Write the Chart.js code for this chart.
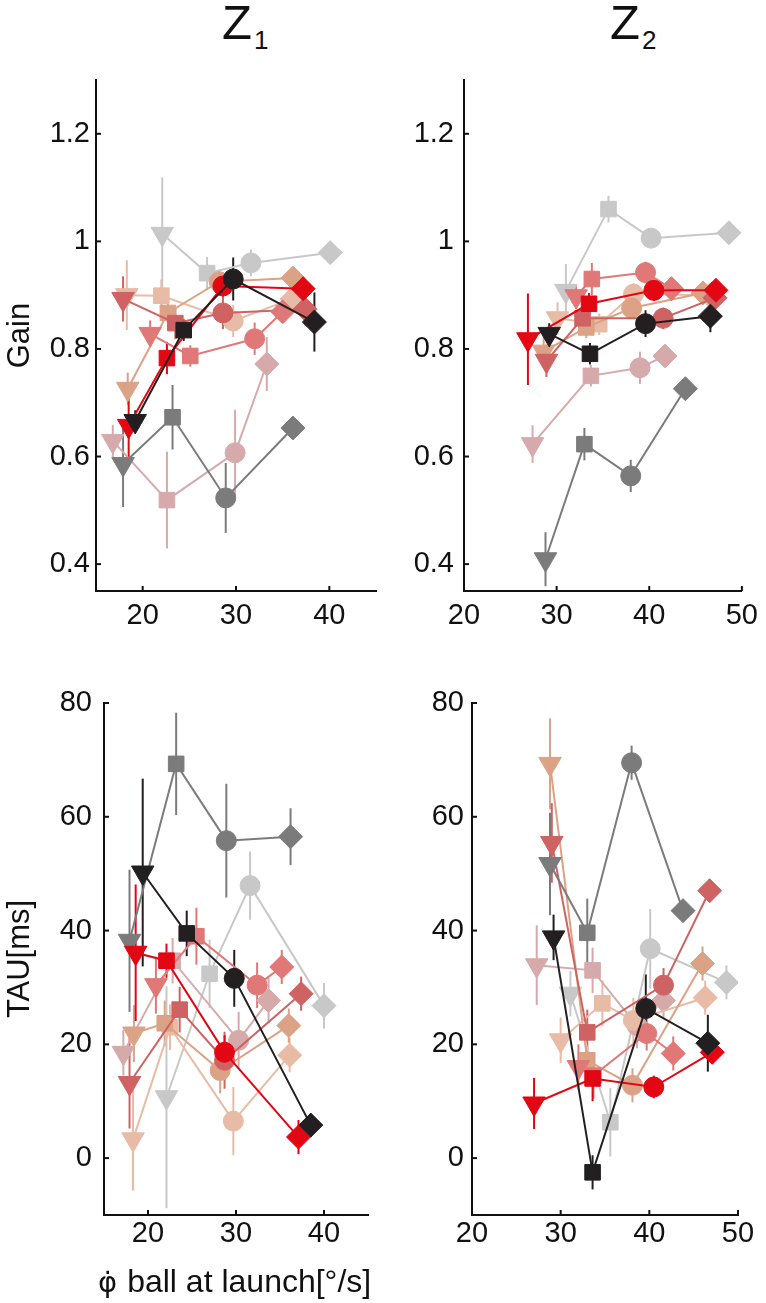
<!DOCTYPE html>
<html>
<head>
<meta charset="utf-8">
<script src="https://cdn.jsdelivr.net/npm/chart.js@4"></script>
<style>
body { margin: 0; background: #fff; }
#page { position: relative; width: 766px; height: 1303px; overflow: hidden; font-family: "Liberation Sans", Arial, sans-serif; color: #111; }
.panel { position: absolute; }
.ttl { position: absolute; top: -2px; font-size: 49px; line-height: 49px; }
.ttl sub { font-size: 26px; vertical-align: baseline; position: relative; top: 10px; margin-left: 2px; }
.xlab { position: absolute; left: 98px; top: 1265px; font-size: 32px; line-height: 32px; white-space: nowrap; }
.xlab .phi { font-family: "DejaVu Sans", sans-serif; font-size: 29px; margin-right: 10px; }
</style>
</head>
<body>
<div id="page">
  <div class="ttl" style="left:222px">Z<sub>1</sub></div>
  <div class="ttl" style="left:610px">Z<sub>2</sub></div>
  <div class="panel" style="left:0;top:40px;width:390px;height:620px"><canvas id="gainZ1"></canvas></div>
  <div class="panel" style="left:390px;top:40px;width:376px;height:620px"><canvas id="gainZ2"></canvas></div>
  <div class="panel" style="left:0;top:660px;width:390px;height:643px"><canvas id="tauZ1"></canvas></div>
  <div class="panel" style="left:390px;top:660px;width:376px;height:643px"><canvas id="tauZ2"></canvas></div>
  <div class="xlab"><span class="phi">φ&#775;</span>ball at launch[°/s]</div>
</div>
<script>
// subjects (one line each), points are triangle, square, circle, diamond
const subjects = ['S1', 'S2', 'S3', 'S4', 'S5', 'S6', 'S7', 'S8', 'S9'];
const subjectColors = ['#231f20', '#e30613', '#7b7b7b', '#e07878', '#cf6262', '#dca286', '#e7bba5', '#d6aaaa', '#c8c8c8'];

const gainTicks = [0.4, 0.6, 0.8, 1, 1.2];
const tauTicks = [0, 20, 40, 60, 80];
const z1XTicks = [20, 30, 40];
const z2XTicks = [20, 30, 40, 50];

// Gain, Z1
const gainZ1X = [
  [19.2, 24.4, 29.7, 38.4], [18.5, 22.6, 28.6, 37.2], [17.9, 23.2, 28.9, 36.1],
  [20.8, 25.1, 32.0, 35.0], [17.9, 23.5, 28.6, 37.4], [18.4, 22.7, 28.2, 36.1],
  [18.3, 22.0, 29.7, 36.0], [16.8, 22.6, 29.9, 33.3], [22.1, 26.9, 31.6, 40.1]
];
const gainZ1Y = [
  [0.666, 0.835, 0.930, 0.850], [0.657, 0.783, 0.917, 0.912], [0.586, 0.673, 0.523, 0.653],
  [0.828, 0.787, 0.819, 0.869], [0.893, 0.848, 0.867, 0.874], [0.726, 0.867, 0.925, 0.932],
  [0.900, 0.899, 0.852, 0.893], [0.629, 0.519, 0.607, 0.772], [1.014, 0.941, 0.960, 0.979]
];
const gainZ1Err = [
  [0.02, 0.02, 0.04, 0.055], [0.06, 0.03, 0.02, 0.02], [0.08, 0.06, 0.065, 0.01],
  [0.025, 0.02, 0.03, 0.02], [0.042, 0.03, 0.03, 0.03], [0.03, 0.02, 0.02, 0.02],
  [0.065, 0.03, 0.03, 0.02], [0.03, 0.09, 0.08, 0.05], [0.105, 0.03, 0.025, 0.01]
];

// Gain, Z2
const gainZ2X = [
  [29.2, 33.6, 39.6, 46.6], [26.9, 33.5, 40.5, 47.2], [28.8, 33.0, 38.0, 43.9],
  [32.1, 33.8, 39.6, 42.4], [28.9, 32.8, 41.5, 47.1], [28.6, 33.2, 38.1, 45.8],
  [30.1, 34.6, 38.3, 46.5], [27.4, 33.7, 39.0, 41.7], [31.0, 35.6, 40.2, 48.6]
];
const gainZ2Y = [
  [0.828, 0.791, 0.847, 0.861], [0.818, 0.884, 0.909, 0.909], [0.409, 0.623, 0.564, 0.726],
  [0.898, 0.930, 0.942, 0.912], [0.778, 0.857, 0.857, 0.895], [0.795, 0.840, 0.876, 0.904],
  [0.857, 0.846, 0.902, 0.900], [0.623, 0.750, 0.765, 0.787], [0.908, 1.060, 1.006, 1.016]
];
const gainZ2Err = [
  [0.02, 0.02, 0.025, 0.03], [0.085, 0.02, 0.02, 0.015], [0.05, 0.03, 0.03, 0.01],
  [0.02, 0.03, 0.02, 0.02], [0.03, 0.02, 0.02, 0.02], [0.03, 0.02, 0.02, 0.02],
  [0.03, 0.02, 0.02, 0.02], [0.035, 0.02, 0.03, 0.01], [0.05, 0.025, 0.01, 0.01]
];

// TAU [ms], Z1
const tauZ1X = [
  [19.4, 24.4, 29.8, 38.5], [18.6, 22.1, 28.7, 37.1], [17.9, 23.2, 28.9, 36.2],
  [20.9, 25.5, 32.4, 35.2], [17.9, 23.6, 28.7, 37.4], [18.4, 21.9, 28.2, 36.0],
  [18.3, 22.5, 29.7, 36.1], [17.2, 22.8, 30.3, 33.7], [22.1, 27.0, 31.6, 40.0]
];
const tauZ1Y = [
  [50.2, 39.5, 31.6, 5.8], [36.1, 34.7, 18.6, 3.7], [38.2, 69.3, 55.8, 56.5],
  [30.4, 39.0, 30.4, 33.6], [13.2, 26.1, 17.2, 28.9], [21.9, 23.7, 15.4, 23.3],
  [3.3, 23.0, 6.5, 18.1], [18.5, 34.7, 20.7, 27.7], [10.7, 32.4, 47.9, 26.8]
];
const tauZ1Err = [
  [16.5, 4, 5, 2], [12, 3, 3, 3], [12.5, 9, 10, 5],
  [5, 5, 4, 3], [8, 4, 5, 3], [5, 4, 4, 3],
  [9, 4, 6, 3], [4, 4, 5, 4], [19.5, 6, 6, 4]
];

// TAU [ms], Z2
const tauZ2X = [
  [29.2, 33.6, 39.6, 46.6], [27.0, 33.6, 40.5, 47.1], [28.8, 33.0, 38.0, 43.8],
  [32.0, 33.7, 39.7, 42.7], [29.0, 33.0, 41.6, 46.8], [28.8, 33.0, 38.1, 46.0],
  [30.0, 34.7, 38.2, 46.3], [27.3, 33.6, 38.6, 41.6], [31.1, 35.6, 40.1, 48.7]
];
const tauZ2Y = [
  [38.8, -2.5, 26.3, 20.2], [9.6, 14.0, 12.5, 18.6], [51.7, 39.6, 69.5, 43.5],
  [16.0, 14.5, 21.9, 18.4], [55.4, 22.1, 30.4, 47.0], [69.3, 17.2, 12.8, 34.2],
  [20.7, 27.2, 24.2, 28.2], [33.9, 33.0, 23.3, 27.7], [28.9, 6.3, 36.8, 30.9]
];
const tauZ2Err = [
  [4, 3, 6, 5], [4.5, 4, 2, 2], [9, 6, 3, 2],
  [4, 4, 3, 3], [7, 4, 3, 2], [8, 3, 3, 3],
  [4, 4, 4, 3], [7, 4, 4, 3], [4, 6, 7, 3]
];

const markerStyles = ['triangle', 'rect', 'circle', 'rectRot'];
const markerRotation = [180, 0, 0, 0];
const markerRadius = [13, 11, 10, 12];
const FONT = '"Liberation Sans", Arial, sans-serif';
const INK = '#111';

// vertical error bars, drawn under the markers
const errorBars = {
  id: 'errorBars',
  beforeDatasetsDraw(chart) {
    const {ctx, chartArea, scales: {x, y}} = chart;
    ctx.save();
    ctx.beginPath();
    ctx.rect(chartArea.left, chartArea.top, chartArea.width, chartArea.height);
    ctx.clip();
    ctx.lineWidth = 2;
    for (let i = chart.data.datasets.length - 1; i >= 0; i--) {
      const ds = chart.data.datasets[i];
      ctx.strokeStyle = ds.borderColor;
      ds.data.forEach((p, j) => {
        const e = ds.errs[j];
        const px = x.getPixelForValue(p.x);
        ctx.beginPath();
        ctx.moveTo(px, y.getPixelForValue(p.y - e));
        ctx.lineTo(px, y.getPixelForValue(p.y + e));
        ctx.stroke();
      });
    }
    ctx.restore();
  }
};

// short tick marks pointing into the plot
const inwardTicks = {
  id: 'inwardTicks',
  afterDraw(chart) {
    const {ctx, chartArea, scales: {x, y}} = chart;
    ctx.save();
    ctx.strokeStyle = INK;
    ctx.lineWidth = 2;
    x.ticks.forEach(t => {
      const px = x.getPixelForValue(t.value);
      ctx.beginPath();
      ctx.moveTo(px, chartArea.bottom);
      ctx.lineTo(px, chartArea.bottom - 5);
      ctx.stroke();
    });
    y.ticks.forEach(t => {
      const py = y.getPixelForValue(t.value);
      ctx.beginPath();
      ctx.moveTo(chartArea.left, py);
      ctx.lineTo(chartArea.left + 5, py);
      ctx.stroke();
    });
    ctx.restore();
  }
};

function makeChart(id, xs, ys, errs, o) {
  const datasets = subjects.map((name, i) => ({
    label: name,
    data: xs[i].map((x, j) => ({x: x, y: ys[i][j]})),
    errs: errs[i],
    showLine: true,
    borderColor: subjectColors[i],
    backgroundColor: subjectColors[i],
    borderWidth: 2,
    pointStyle: markerStyles,
    rotation: markerRotation,
    pointRadius: markerRadius,
    pointBorderWidth: 1,
    pointBorderColor: subjectColors[i]
  }));

  return new Chart(document.getElementById(id), {
    type: 'scatter',
    data: {datasets: datasets},
    options: {
      responsive: true,
      maintainAspectRatio: false,
      animation: false,
      events: [],
      layout: {padding: {top: o.padTop, right: o.padRight, left: 0, bottom: 0}},
      plugins: {legend: {display: false}, tooltip: {enabled: false}},
      scales: {
        x: {
          type: 'linear',
          min: o.xMin,
          max: o.xMax,
          afterBuildTicks: s => { s.ticks = o.xTicks.map(v => ({value: v})); },
          afterFit: s => { s.height = o.xH; },
          grid: {display: false, drawTicks: false},
          border: {display: true, color: INK, width: 2},
          ticks: {color: INK, font: {size: 29, family: FONT}, padding: o.xPad, maxRotation: 0,
                  callback: v => String(v)}
        },
        y: {
          type: 'linear',
          min: o.yMin,
          max: o.yMax,
          afterBuildTicks: s => { s.ticks = o.yTicks.map(v => ({value: v})); },
          afterFit: s => { s.width = o.yW; },
          grid: {display: false, drawTicks: false},
          border: {display: true, color: INK, width: 2},
          ticks: {color: INK, font: {size: 29, family: FONT}, padding: o.yPad,
                  callback: v => String(v)},
          title: {
            display: !!o.yTitle,
            text: o.yTitle || '',
            color: INK,
            font: {size: 31, family: FONT},
            padding: {top: 2, bottom: 0}
          }
        }
      }
    },
    plugins: [errorBars, inwardTicks]
  });
}

makeChart('gainZ1', gainZ1X, gainZ1Y, gainZ1Err, {
  xMin: 15, xMax: 45, xTicks: z1XTicks, yMin: 0.35, yMax: 1.3, yTicks: gainTicks,
  padTop: 40, padRight: 14, yW: 96, xH: 69, xPad: 8, yPad: 6, yTitle: 'Gain'
});
makeChart('gainZ2', gainZ2X, gainZ2Y, gainZ2Err, {
  xMin: 20, xMax: 50, xTicks: z2XTicks, yMin: 0.35, yMax: 1.3, yTicks: gainTicks,
  padTop: 40, padRight: 22, yW: 74, xH: 69, xPad: 8, yPad: 10
});
makeChart('tauZ1', tauZ1X, tauZ1Y, tauZ1Err, {
  xMin: 15, xMax: 45, xTicks: z1XTicks, yMin: -10, yMax: 80, yTicks: tauTicks,
  padTop: 43, padRight: 22, yW: 104, xH: 88, xPad: 2, yPad: 12, yTitle: 'TAU[ms]'
});
makeChart('tauZ2', tauZ2X, tauZ2Y, tauZ2Err, {
  xMin: 20, xMax: 50, xTicks: z2XTicks, yMin: -10, yMax: 80, yTicks: tauTicks,
  padTop: 43, padRight: 28, yW: 82, xH: 88, xPad: 2, yPad: 8
});
</script>
</body>
</html>
